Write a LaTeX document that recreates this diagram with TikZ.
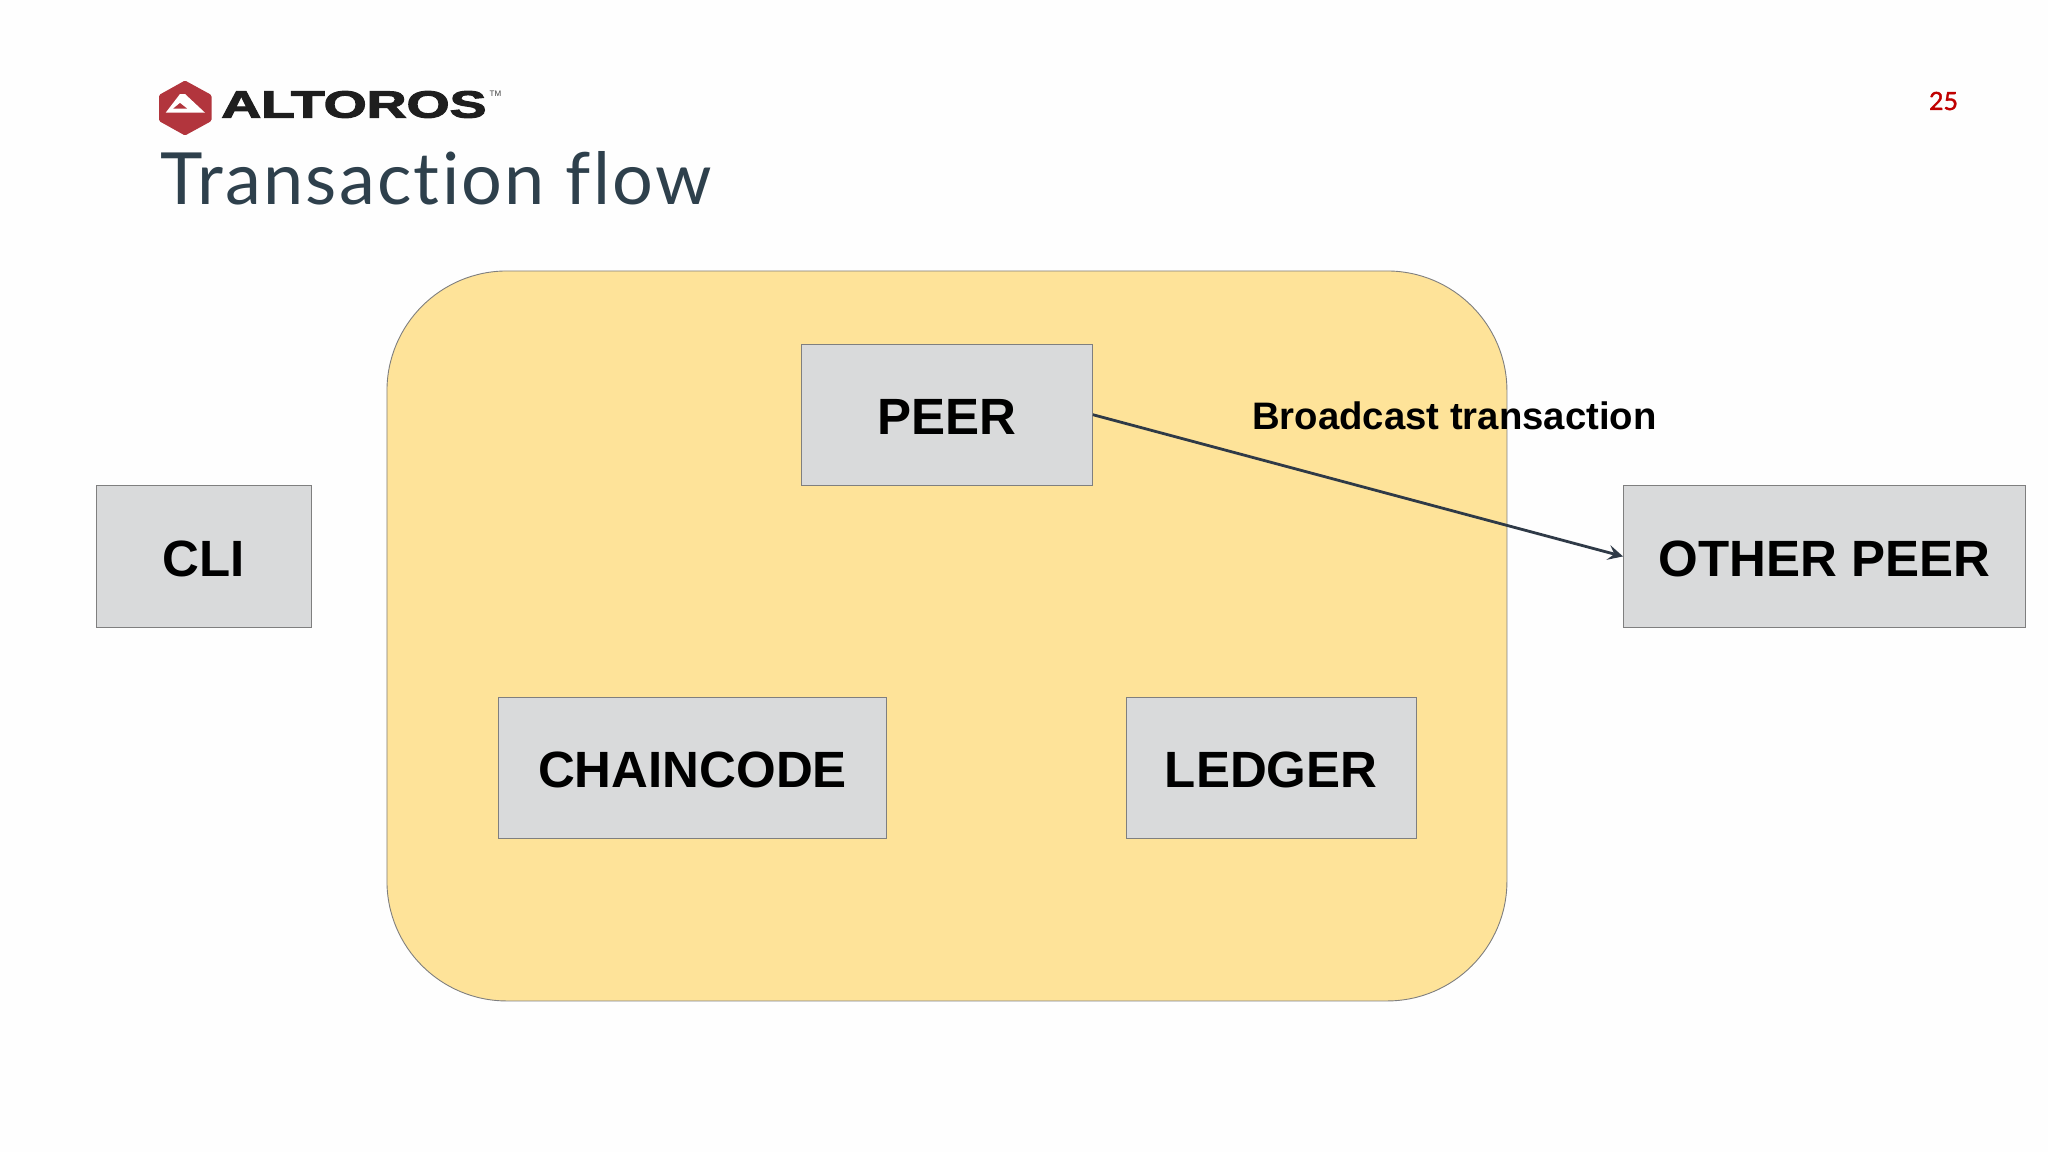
\documentclass[tikz,border=0pt]{standalone}
\usepackage{fontspec}
\setmainfont{Liberation Sans}
\newfontfamily\titlefont{Lato}[Ligatures=NoCommon,LetterSpace=3.2]
\newfontfamily\numfont{Lato}[FakeBold=1.5]
\newfontfamily\wordfont{Liberation Sans Bold}[FakeBold=2.5]
\usetikzlibrary{arrows.meta}
\definecolor{bgc}{HTML}{FEFEFE}
\definecolor{boxc}{HTML}{D9DADB}
\definecolor{edgec}{HTML}{7F7F7F}
\definecolor{yel}{HTML}{FEE399}
\definecolor{arrc}{HTML}{2F3A47}
\definecolor{titlec}{HTML}{2E404C}
\definecolor{logor}{HTML}{B2353D}
\definecolor{numc}{HTML}{C00000}
\definecolor{wordc}{HTML}{1E1E1E}
\tikzset{
  box/.style={draw=edgec,fill=boxc,line width=0.9pt,inner sep=0pt,anchor=north west,
    font=\bfseries\fontsize{51}{51}\selectfont,text=black,align=center,
    text height=39.3pt,text depth=0pt},
}
\begin{document}
\begin{tikzpicture}[x=1pt,y=-1pt]
\useasboundingbox (0,0) rectangle (2048,1152);
\fill[bgc] (0,0) rectangle (2048,1152);
% logo
\fill[logor,rounded corners=1.5pt] (185,80.5) -- (211.5,95) -- (211.5,121) -- (185,135.5) -- (159,121) -- (159,95) -- cycle;
\fill[white] (180,94) -- (185,94) -- (205,112.7) -- (165.7,112.7) -- cycle;
\fill[logor] (180,103) -- (187,108.5) -- (173.3,108.5) -- cycle;
\node[anchor=west,inner sep=0pt,text=wordc,font=\wordfont\fontsize{38}{38}\selectfont,xscale=1.455,transform shape] (word) at (221,104.5) {ALTOROS};
\node[anchor=west,inner sep=0pt,text=darkgray,font=\fontsize{8}{8}\selectfont] (tm) at (489.5,94) {TM};
% title
\node[anchor=base west,inner sep=0pt,text=titlec,font=\titlefont\fontsize{72}{72}\selectfont] (title) at (160,204) {Transaction flow};
\node[anchor=center,inner sep=0pt,text=numc,font=\numfont\fontsize{25}{25}\selectfont] (num) at (1943.5,101) {25};
% container
\node[draw=edgec,fill=yel,line width=0.9pt,rounded corners=120pt,anchor=north west,minimum width=1120pt,minimum height=730pt,inner sep=0pt] (host) at (386.5,270.5) {};
% boxes
\node[box,minimum width=215pt,minimum height=141.5pt] (cli) at (95.5,485.2) {CLI};
\node[box,minimum width=291pt,minimum height=141.5pt] (peer) at (801,343.5) {PEER};
\node[box,minimum width=402pt,minimum height=141.5pt] (other) at (1623,485.2) {OTHER PEER};
\node[box,minimum width=388pt,minimum height=141pt] (chain) at (498,697) {CHAINCODE};
\node[box,minimum width=290.5pt,minimum height=141pt] (ledger) at (1125.5,697) {LEDGER};
% connector
\draw[arrc,line width=2.8pt,-{Stealth[length=15pt,width=15pt,inset=6pt]}] (peer.east) -- (other.west);
\node[anchor=center,inner sep=0pt,text=black,font=\bfseries\fontsize{38.3}{38}\selectfont] (lbl) at (1454.5,416) {Broadcast transaction};
\end{tikzpicture}
\end{document}
